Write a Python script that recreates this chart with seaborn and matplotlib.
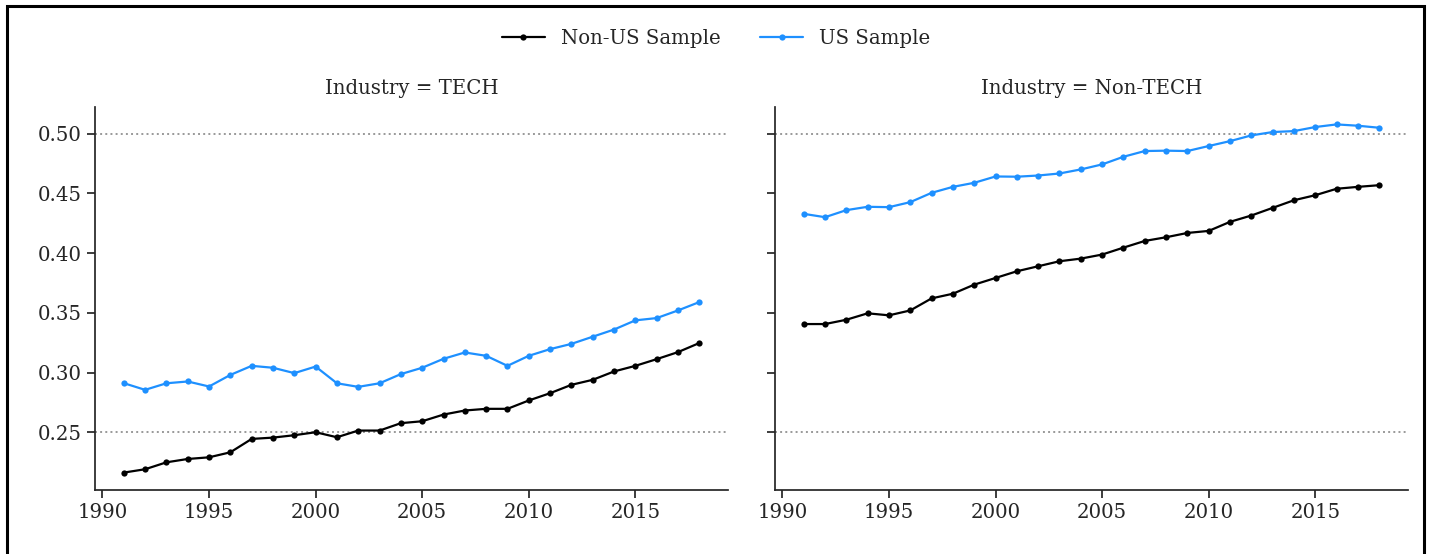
import matplotlib
matplotlib.use("Agg")
import matplotlib.pyplot as plt
import matplotlib.patches as mpatches
import numpy as np
import pandas as pd
import seaborn as sns

years = list(range(1991, 2019))

tech_nonus = [0.2162, 0.2190, 0.2248, 0.2276, 0.2290, 0.2332, 0.2444, 0.2455, 0.2475, 0.2500,
              0.2458, 0.2514, 0.2514, 0.2576, 0.2592, 0.2648, 0.2682, 0.2696, 0.2696, 0.2766,
              0.2827, 0.2897, 0.2939, 0.3009, 0.3056, 0.3112, 0.3171, 0.3247]
tech_us = [0.2911, 0.2855, 0.2910, 0.2925, 0.2883, 0.2980, 0.3056, 0.3040, 0.2995, 0.3050,
           0.2910, 0.2880, 0.2910, 0.2987, 0.3040, 0.3115, 0.3168, 0.3140, 0.3056, 0.3140,
           0.3196, 0.3240, 0.3300, 0.3360, 0.3437, 0.3456, 0.3520, 0.3590]
nontech_nonus = [0.3406, 0.3406, 0.3442, 0.3496, 0.3479, 0.3520, 0.3621, 0.3660, 0.3736, 0.3792,
                 0.3848, 0.3890, 0.3932, 0.3954, 0.3988, 0.4046, 0.4102, 0.4133, 0.4169, 0.4186,
                 0.4262, 0.4315, 0.4379, 0.4443, 0.4485, 0.4539, 0.4555, 0.4569]
nontech_us = [0.4329, 0.4301, 0.4360, 0.4388, 0.4385, 0.4427, 0.4505, 0.4555, 0.4589, 0.4642,
              0.4640, 0.4650, 0.4667, 0.4701, 0.4743, 0.4807, 0.4855, 0.4858, 0.4855, 0.4897,
              0.4938, 0.4986, 0.5014, 0.5022, 0.5056, 0.5078, 0.5067, 0.5050]

industries = ["TECH", "Non-TECH"]
samples = ["Non-US Sample", "US Sample"]
ref_levels = [0.25, 0.50]
x_ticks = [1990, 1995, 2000, 2005, 2010, 2015]
y_ticks = [0.25, 0.30, 0.35, 0.40, 0.45, 0.50]

rows = []
for ind, s_vals in zip(industries, [(tech_nonus, tech_us), (nontech_nonus, nontech_us)]):
    for smp, vals in zip(samples, s_vals):
        for y, v in zip(years, vals):
            rows.append({"Year": y, "Value": v, "Industry": ind, "Sample": smp})
df = pd.DataFrame(rows)

sns.set_theme(style="ticks")
plt.rcParams["font.family"] = ["DejaVu Serif"]
plt.rcParams["font.size"] = 14

FS = 14.2

g = sns.relplot(data=df, x="Year", y="Value", hue="Sample", col="Industry",
                kind="line", marker="o", markersize=4.5, markeredgewidth=0,
                linewidth=1.6, palette=["black", "#1E90FF"],
                col_order=industries, hue_order=samples, legend=True,
                height=5, aspect=1.3)
fig = g.figure
fig.set_size_inches(14.32, 5.54)
fig.set_dpi(100)

g.set_titles("Industry = {col_name}", size=FS, pad=9)
g.set_axis_labels("", "")
for ax in g.axes.flat:
    for lv in ref_levels:
        ax.axhline(lv, color="#999999", linestyle=":", linewidth=1.4, zorder=0)
    ax.set_xticks(x_ticks)
    ax.set_yticks(y_ticks)
    ax.set_yticklabels([f"{t:.2f}" for t in y_ticks])
    ax.tick_params(labelsize=FS, colors=".15")

# legend
g._legend.remove()
handles, labels = g.axes.flat[0].get_legend_handles_labels()
fig.legend(handles, labels, loc="center", bbox_to_anchor=(0.5, 1 - 38.5 / 554),
           ncol=2, frameon=False, fontsize=FS, handlelength=2.2,
           columnspacing=2.0, handletextpad=0.8)

fig.subplots_adjust(left=95 / 1432, right=1408 / 1432, bottom=64 / 554,
                    top=1 - 107 / 554, wspace=0.074)

# outer frame
fig.patches.append(mpatches.Rectangle((7 / 1432, -0.2), (1424 - 7) / 1432, 1.2 - 6 / 554,
                                      transform=fig.transFigure, fill=False,
                                      edgecolor="black", linewidth=2.2, zorder=10))

fig.savefig("out.png", dpi=100)
